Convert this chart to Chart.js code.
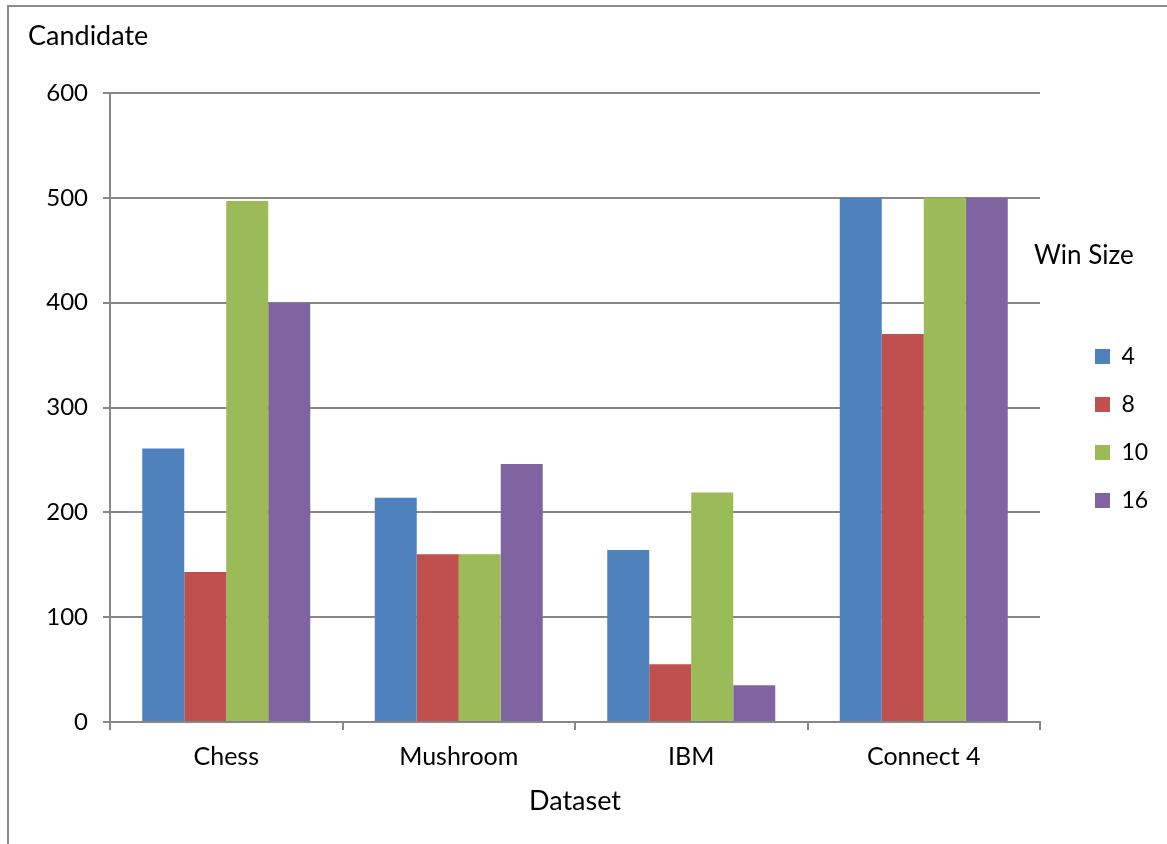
<!DOCTYPE html>
<html>
<head>
<meta charset="utf-8">
<title>Candidate by Dataset</title>
<script src="https://cdn.jsdelivr.net/npm/chart.js@4/dist/chart.umd.min.js"></script>
<style>
  html, body { margin: 0; padding: 0; background: #ffffff; }
  #wrap { width: 1167px; height: 844px; position: relative; }
</style>
</head>
<body>
<div id="wrap"><canvas id="chart" width="1167" height="844"></canvas></div>
<script>
// Datasets on the category axis
const categories = ['Chess', 'Mushroom', 'IBM', 'Connect 4'];

// Candidate counts per window size
const winSizes = ['4', '8', '10', '16'];
const win4  = [261, 214, 164, 500];
const win8  = [143, 160, 55, 370];
const win10 = [497, 160, 219, 500];
const win16 = [400, 246, 35, 500];

// Y axis range
const yMin = 0;
const yMax = 600;
const yStep = 100;

const colors = ['#4F81BD', '#C0504D', '#9BBB59', '#8064A2'];
const gridColor = '#878787';
const FONT = 'Lato, "Open Sans", sans-serif';

const seriesValues = [win4, win8, win10, win16];

// Outer frame lines and the legend heading
const decorations = {
  id: 'decorations',
  beforeDraw(chart) {
    const ctx = chart.ctx;
    ctx.save();
    ctx.fillStyle = '#ffffff';
    ctx.fillRect(0, 0, chart.width, chart.height);
    ctx.strokeStyle = '#8a8a8a';
    ctx.lineWidth = 2;
    ctx.beginPath();
    ctx.moveTo(8, chart.height);
    ctx.lineTo(8, 6);
    ctx.lineTo(chart.width, 6);
    ctx.stroke();
    ctx.restore();
  },
  afterLayout(chart) {
    // place the legend block to the right of the plot
    const lg = chart.legend;
    if (!lg) return;
    const area = chart.chartArea;
    lg.left = area.right + 30;
    lg.right = lg.left + lg.width;
    lg.top = area.top + 227;
    lg.bottom = lg.top + lg.height;
    if (lg.adjustHitBoxes) lg.adjustHitBoxes();
  },
  afterDraw(chart) {
    const ctx = chart.ctx;
    const area = chart.chartArea;
    ctx.save();
    ctx.fillStyle = '#000000';
    ctx.font = '26px ' + FONT;
    ctx.textAlign = 'left';
    ctx.textBaseline = 'middle';
    ctx.fillText('Win Size', area.right - 6, area.top + 163);
    ctx.restore();
  }
};

new Chart(document.getElementById('chart'), {
  type: 'bar',
  data: {
    labels: categories,
    datasets: winSizes.map((name, i) => ({
      label: name,
      data: seriesValues[i],
      backgroundColor: colors[i],
      borderWidth: 0,
      categoryPercentage: 0.7226,
      barPercentage: 1.0
    }))
  },
  options: {
    responsive: false,
    animation: false,
    devicePixelRatio: 1,
    layout: { padding: { left: 28, top: 0, right: 127, bottom: 27 } },
    plugins: {
      title: {
        display: true,
        text: 'Candidate',
        align: 'start',
        color: '#000000',
        font: { family: FONT, size: 27, weight: 'normal', lineHeight: 1.2 },
        padding: { top: 19.8, bottom: 40.8 }
      },
      legend: {
        display: true,
        position: 'chartArea',
        align: 'start',
        labels: {
          boxWidth: 15,
          boxHeight: 15,
          padding: 25,
          color: '#000000',
          font: { family: FONT, size: 23 }
        }
      },
      tooltip: { enabled: false }
    },
    scales: {
      x: {
        offset: true,
        grid: {
          display: true,
          offset: true,
          drawOnChartArea: false,
          drawTicks: true,
          tickLength: 8,
          color: gridColor,
          lineWidth: 2
        },
        border: { display: true, color: gridColor, width: 2 },
        ticks: {
          color: '#000000',
          padding: 12,
          font: { family: FONT, size: 25 }
        },
        title: {
          display: true,
          text: 'Dataset',
          color: '#000000',
          font: { family: FONT, size: 27, lineHeight: 1.2 },
          padding: { top: 4, bottom: 0 }
        },
        afterFit(scale) { scale.height = 95; }
      },
      y: {
        min: yMin,
        max: yMax,
        grid: {
          color: gridColor,
          lineWidth: 2,
          drawTicks: true,
          tickLength: 7
        },
        border: { display: true, color: gridColor, width: 2 },
        ticks: {
          stepSize: yStep,
          color: '#000000',
          padding: 15,
          font: { family: FONT, size: 24 }
        },
        afterFit(scale) { scale.width = 82; }
      }
    }
  },
  plugins: [decorations]
});
</script>
</body>
</html>
